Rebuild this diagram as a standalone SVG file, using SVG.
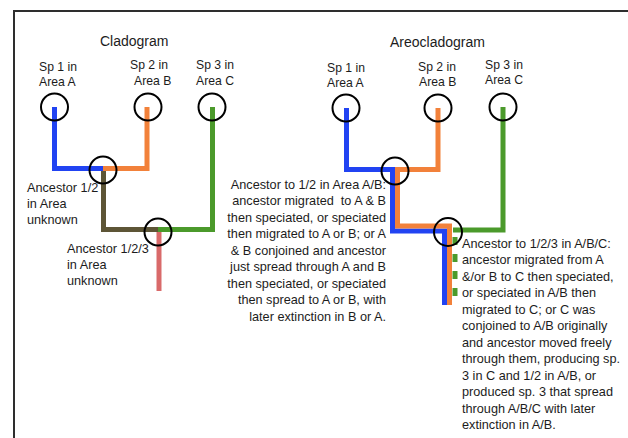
<svg xmlns="http://www.w3.org/2000/svg" width="628" height="438" viewBox="0 0 628 438">
<style>
text{font-family:"Liberation Sans",Arial,sans-serif;fill:#1c1c1c}
.t{font-size:14px}
.l{font-size:12.2px}
.b{font-size:12.7px}
.r{text-anchor:end}
.c{fill:none;stroke:#000;stroke-width:2}
.ln{fill:none;stroke-width:5;stroke-linejoin:miter;stroke-linecap:butt}
.blue{stroke:#2143f2}
.orange{stroke:#f2813a}
.green{stroke:#4b9a2b}
.brown{stroke:#5d5536}
.red{stroke:#d96a6a}
</style>
<rect width="628" height="438" fill="#fff"/>
<path d="M14,438 V11 H628" fill="none" stroke="#2e2e2e" stroke-width="2"/>
<text class="t" x="100" y="46">Cladogram</text>
<text class="t" x="390" y="47">Areocladogram</text>
<g id="connectors">
<path class="ln blue" d="M54.5,107 V168.5 H103"/>
<path class="ln orange" d="M147,107 V168.5 H103"/>
<path class="ln brown" d="M103.5,171 V229.5 H158"/>
<path class="ln green" d="M212.5,107 V229.5 H158"/>
<path class="ln red" d="M159,232 V291"/>
<path class="ln blue" d="M346.5,108 V169.5 H392.5 V231 H444.5 V305"/>
<path class="ln orange" d="M438,108 V169.5 H397.5 V226 H449.5 V305"/>
<path class="ln green" d="M503,107 V230 H453"/>
<path class="ln green" d="M455,237 V305" stroke-width="4" stroke-dasharray="8 9"/>
</g>
<g id="clado-sp1"><circle class="c" cx="54.5" cy="107" r="13.5"/><text class="l" x="39" y="71">Sp 1 in</text><text class="l" x="39" y="86">Area A</text></g>
<g id="clado-sp2"><circle class="c" cx="148" cy="107" r="13.5"/><text class="l" x="130" y="69">Sp 2 in</text><text class="l" x="134" y="85">Area B</text></g>
<g id="clado-sp3"><circle class="c" cx="212" cy="107" r="13.5"/><text class="l" x="196" y="69">Sp 3 in</text><text class="l" x="196" y="85">Area C</text></g>
<g id="clado-anc12"><circle class="c" cx="103" cy="170" r="13.5"/><text class="b" x="27" y="192">Ancestor 1/2</text><text class="b" x="27" y="208">in Area</text><text class="b" x="27" y="224">unknown</text></g>
<g id="clado-anc123"><circle class="c" cx="158" cy="232" r="13.5"/><text class="b" x="67" y="253">Ancestor 1/2/3</text><text class="b" x="67" y="269">in Area</text><text class="b" x="67" y="285">unknown</text></g>
<g id="areo-sp1"><circle class="c" cx="346" cy="108" r="13.5"/><text class="l" x="327" y="72">Sp 1 in</text><text class="l" x="327" y="87">Area A</text></g>
<g id="areo-sp2"><circle class="c" cx="438" cy="108" r="13.5"/><text class="l" x="418" y="71">Sp 2 in</text><text class="l" x="419" y="86">Area B</text></g>
<g id="areo-sp3"><circle class="c" cx="503" cy="107" r="13.5"/><text class="l" x="485" y="69">Sp 3 in</text><text class="l" x="485" y="84">Area C</text></g>
<g id="areo-anc12"><circle class="c" cx="395" cy="171" r="13.5"/>
<text class="b r" x="386" y="188.5">Ancestor to 1/2 in Area A/B:</text>
<text class="b r" x="386" y="205">ancestor migrated&#160; to A &amp; B</text>
<text class="b r" x="386" y="221.5">then speciated, or speciated</text>
<text class="b r" x="386" y="238">then migrated to A or B; or A</text>
<text class="b r" x="386" y="254.5">&amp; B conjoined and ancestor</text>
<text class="b r" x="386" y="271">just spread through A and B</text>
<text class="b r" x="386" y="287.5">then speciated, or speciated</text>
<text class="b r" x="386" y="304">then spread to A or B, with</text>
<text class="b r" x="386" y="320.5">later extinction in B or A.</text>
</g>
<g id="areo-anc123"><circle class="c" cx="448" cy="232" r="14"/>
<text class="b" x="462" y="247.5">Ancestor to 1/2/3 in A/B/C:</text>
<text class="b" x="462" y="264">ancestor migrated from A</text>
<text class="b" x="462" y="280.5">&amp;/or B to C then speciated,</text>
<text class="b" x="462" y="297">or speciated in A/B then</text>
<text class="b" x="462" y="313.5">migrated to C; or C was</text>
<text class="b" x="462" y="330">conjoined to A/B originally</text>
<text class="b" x="462" y="346.5">and ancestor moved freely</text>
<text class="b" x="462" y="363">through them, producing sp.</text>
<text class="b" x="462" y="379.5">3 in C and 1/2 in A/B, or</text>
<text class="b" x="462" y="396">produced sp. 3 that spread</text>
<text class="b" x="462" y="412.5">through A/B/C with later</text>
<text class="b" x="462" y="429">extinction in A/B.</text>
</g>
</svg>
